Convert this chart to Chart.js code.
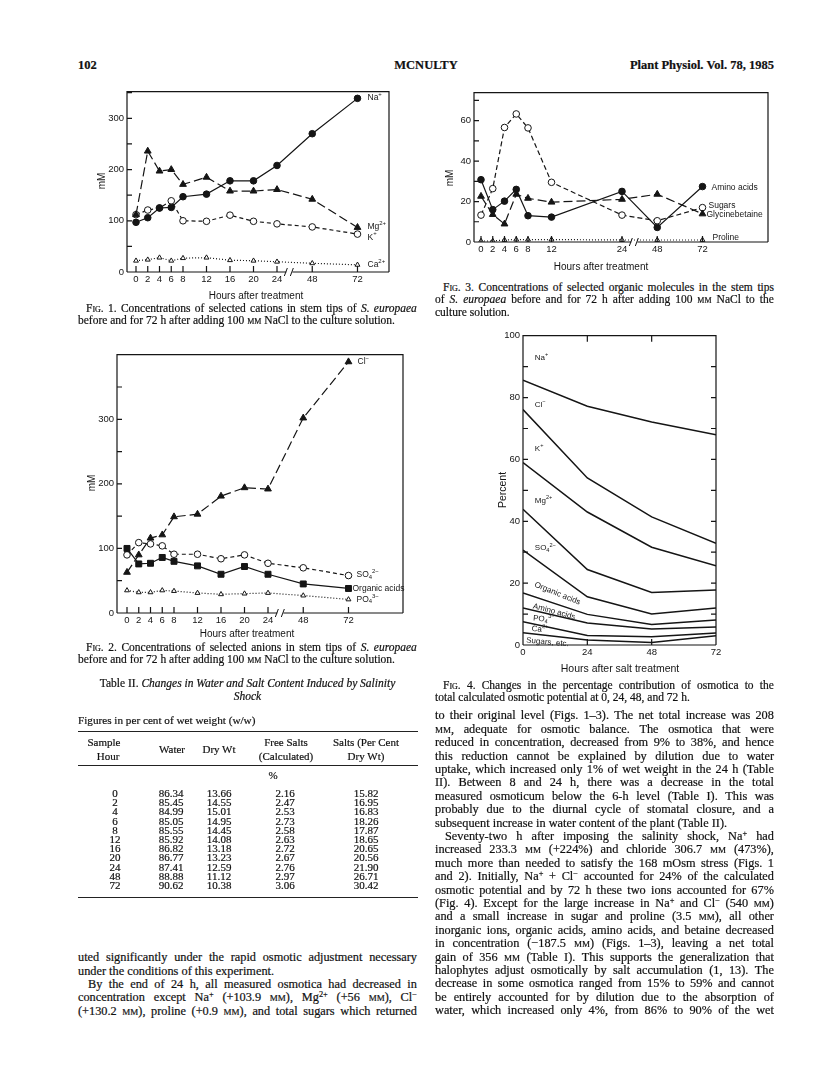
<!DOCTYPE html>
<html lang="en">
<head>
<meta charset="UTF-8">
<meta name="viewport" content="width=816, initial-scale=1.0">
<title>McNulty – Plant Physiol. Vol. 78, 1985, p. 102</title>
<script src="https://cdn.jsdelivr.net/npm/chart.js"></script>
<style>
    html, body { margin: 0; padding: 0; background: #fff; }
    body {
        position: relative;
        width: 816px;
        height: 1073px;
        overflow: hidden;
        font-family: "Liberation Serif", "Times New Roman", serif;
        color: #111;
        -webkit-text-stroke: 0.2px #111;
    }
    canvas { position: absolute; }
    .txt { position: absolute; white-space: nowrap; }
    .ln { position: absolute; white-space: nowrap; }
    .ln.just { display: flex; justify-content: space-between; }
    sup, sub { font-size: 0.68em; line-height: 0; }
    sup { vertical-align: 0.45em; }
    sub { vertical-align: -0.2em; }
    var { font-style: normal; font-variant: small-caps; }
    .head { font-size: 12.5px; font-weight: bold; line-height: 14px; }
    .rule { position: absolute; left: 78px; width: 340px; background: #222; }
    .cell { position: absolute; font-size: 11px; line-height: 12px; transform: translateX(-50%); white-space: nowrap; }
</style>
</head>
<body>
    <div class="txt head" style="left:78px; top:58px;">102</div>
    <div class="txt head" style="left:426px; top:58px; transform:translateX(-50%);">MCNULTY</div>
    <div class="txt head" style="right:42px; top:58px;">Plant Physiol. Vol. 78, 1985</div>

    <canvas id="fig1"></canvas>
    <canvas id="fig2"></canvas>
    <canvas id="fig3"></canvas>
    <canvas id="fig4"></canvas>

    <div class="rule" style="top:731px; height:1.2px;"></div>
    <div class="rule" style="top:765px; height:0.8px;"></div>
    <div class="rule" style="top:897px; height:1.2px;"></div>

<script>
    // ---- Fig. 1: cations in stem tips (mM) ----
    const hours1  = [0, 2, 4, 6, 8, 12, 16, 20, 24, 48, 72];
    const naPlus  = [97, 106, 125, 126, 147, 152, 178, 178, 208, 270, 339];
    const mg2Plus = [112, 236, 197, 200, 171, 185, 158, 158, 161, 142, 87];
    const kPlus   = [112, 121, 125, 139, 100, 99, 111, 99, 94, 88, 74];
    const ca2Plus = [22, 24, 28, 22, 27, 28, 23, 22, 20, 17, 14];
    const yTicks1 = [0, 100, 200, 300];

    // ---- Fig. 2: anions in stem tips (mM) ----
    const hours2   = [0, 2, 4, 6, 8, 12, 16, 20, 24, 48, 72];
    const clMinus  = [63, 90, 116, 121, 149, 153, 181, 194, 192, 302, 389];
    const so4      = [90, 109, 107, 104, 91, 91, 84, 90, 77, 70, 58];
    const orgAcids = [100, 76, 77, 86, 80, 73, 60, 72, 60, 45, 38];
    const po4      = [35, 32, 32, 35, 34, 31, 29, 30, 31, 27, 21];
    const yTicks2  = [0, 100, 200, 300];

    // ---- Fig. 3: organic molecules (mM) ----
    const hours3         = [0, 2, 4, 6, 8, 12, 24, 48, 72];
    const aminoAcids     = [30.8, 16, 20.2, 26, 13, 12.3, 25, 7.2, 27.4];
    const sugars         = [13.3, 26.4, 56.6, 63.3, 56.4, 29.5, 13.3, 10.5, 17];
    const glycinebetaine = [22.6, 13.6, 8.9, 23.6, 21.6, 19.7, 21.1, 23.6, 13.9];
    const proline        = [0.5, 0.5, 1, 1.2, 1.2, 1.2, 1, 1, 1];
    const yTicks3        = [0, 20, 40, 60];

    // ---- Fig. 4: cumulative percentage contribution (upper edge of each band) ----
    const hours4      = [0, 24, 48, 72];
    const topCl       = [85.6, 77.2, 72.1, 68.0];
    const topK        = [76.1, 54.0, 41.4, 32.9];
    const topMg       = [59.0, 43.0, 31.6, 25.6];
    const topSO4      = [43.9, 24.4, 17.0, 17.8];
    const topOrganic  = [30.7, 15.6, 10.0, 12.0];
    const topAmino    = [16.8, 9.9, 6.6, 8.1];
    const topPO4      = [12.0, 7.1, 5.2, 5.8];
    const topCa       = [7.5, 3.1, 2.7, 3.9];
    const topSugars   = [4.0, 1.6, 0.8, 3.0];
    const yTicks4     = [0, 20, 40, 60, 80, 100];
    const xTicks4     = [0, 24, 48, 72];

    // ---- Table II ----
    const tblHour  = ['0', '2', '4', '6', '8', '12', '16', '20', '24', '48', '72'];
    const tblWater = ['86.34', '85.45', '84.99', '85.05', '85.55', '85.92', '86.82', '86.77', '87.41', '88.88', '90.62'];
    const tblDry   = ['13.66', '14.55', '15.01', '14.95', '14.45', '14.08', '13.18', '13.23', '12.59', '11.12', '10.38'];
    const tblFree  = ['2.16', '2.47', '2.53', '2.73', '2.58', '2.63', '2.72', '2.67', '2.76', '2.97', '3.06'];
    const tblSalts = ['15.82', '16.95', '16.83', '18.26', '17.87', '18.65', '20.65', '20.56', '21.90', '26.71', '30.42'];

    const ink = '#151515';
    const sans = '"Liberation Sans", Arial, Helvetica, sans-serif';
    Chart.defaults.font.family = sans;
    Chart.defaults.color = ink;

    // hour axis: linear to 24 h, then compressed after the break
    const POS48 = 30.0, POS72 = 37.7, BREAK_POS = 26.1, PX_PER_POS = 5.875;
    function hourPos(h) {
        if (h <= 24) return h;
        if (h <= 48) return 24 + (h - 24) * (POS48 - 24) / 24;
        return POS48 + (h - 48) * (POS72 - POS48) / 24;
    }

    const FILLED_CIRCLE = { pointStyle: 'circle', pointRadius: 3.3, pointBackgroundColor: ink };
    const OPEN_CIRCLE   = { pointStyle: 'circle', pointRadius: 3.3, pointBackgroundColor: '#fff' };
    const FILLED_TRI    = { pointStyle: 'triangle', pointRadius: 3.9, pointBackgroundColor: ink };
    const OPEN_TRI      = { pointStyle: 'triangle', pointRadius: 2.8, pointBackgroundColor: '#fff' };
    const FILLED_SQ     = { pointStyle: 'rect', pointRadius: 4.2, pointBackgroundColor: ink };

    function series(hours, values, marker, dash, order) {
        return Object.assign({
            data: hours.map((h, i) => ({ x: hourPos(h), y: values[i] })),
            borderColor: ink, borderWidth: 1.2, borderDash: dash, tension: 0,
            pointBorderColor: ink, pointBorderWidth: 1, pointHoverRadius: 0, order: order
        }, marker);
    }

    function band(values) {
        return {
            data: hours4.map((h, i) => ({ x: h, y: values[i] })),
            borderColor: ink, borderWidth: 1.5, tension: 0, pointRadius: 0
        };
    }

    // text with ^{sup} and _{sub}
    function parseRich(s) {
        const out = [];
        let i = 0;
        while (i < s.length) {
            if ((s[i] === '^' || s[i] === '_') && s[i + 1] === '{') {
                const j = s.indexOf('}', i);
                out.push({ t: s.slice(i + 2, j), k: s[i] });
                i = j + 1;
            } else {
                let j = i;
                while (j < s.length && !((s[j] === '^' || s[j] === '_') && s[j + 1] === '{')) j++;
                out.push({ t: s.slice(i, j), k: '' });
                i = j;
            }
        }
        return out;
    }
    function drawRich(ctx, s, x, y, size, rot) {
        ctx.save();
        ctx.translate(x, y);
        if (rot) ctx.rotate(rot * Math.PI / 180);
        ctx.textBaseline = 'middle';
        ctx.textAlign = 'left';
        ctx.fillStyle = ink;
        let cx = 0;
        parseRich(s).forEach(p => {
            const fs = p.k ? size * 0.7 : size;
            ctx.font = fs + 'px ' + sans;
            const dy = p.k === '^' ? -size * 0.4 : (p.k === '_' ? size * 0.28 : 0);
            ctx.fillText(p.t, cx, dy);
            cx += ctx.measureText(p.t).width;
        });
        ctx.restore();
    }

    // box, inward ticks, axis break, series labels and axis titles
    const framePlugin = {
        id: 'frame',
        afterDatasetsDraw(chart, args, o) {
            const { ctx, chartArea: a } = chart;
            const x = chart.scales.x, y = chart.scales.y;
            ctx.save();
            ctx.strokeStyle = ink;
            ctx.lineWidth = 1.2;
            ctx.beginPath();
            ctx.moveTo(a.left, a.bottom); ctx.lineTo(a.left, a.top);
            ctx.lineTo(a.right, a.top); ctx.lineTo(a.right, a.bottom);
            if (o.breakAt != null) {
                const bx = x.getPixelForValue(o.breakAt);
                ctx.moveTo(a.left, a.bottom); ctx.lineTo(bx - 3, a.bottom);
                ctx.moveTo(bx + 3, a.bottom); ctx.lineTo(a.right, a.bottom);
            } else {
                ctx.moveTo(a.left, a.bottom); ctx.lineTo(a.right, a.bottom);
            }
            for (let v = o.yStep; v < y.max; v += o.yStep) {
                const py = y.getPixelForValue(v);
                ctx.moveTo(a.left, py); ctx.lineTo(a.left + 5, py);
                if (o.mirror) { ctx.moveTo(a.right, py); ctx.lineTo(a.right - 5, py); }
            }
            x.ticks.forEach(t => {
                const px = x.getPixelForValue(t.value);
                ctx.moveTo(px, a.bottom); ctx.lineTo(px, a.bottom - 6);
                if (o.mirror) { ctx.moveTo(px, a.top); ctx.lineTo(px, a.top + 6); }
            });
            ctx.stroke();
            if (o.breakAt != null) {
                const bx = x.getPixelForValue(o.breakAt);
                ctx.lineWidth = 1;
                ctx.beginPath();
                ctx.moveTo(bx - 5, a.bottom + 4); ctx.lineTo(bx - 2, a.bottom - 4);
                ctx.moveTo(bx + 1, a.bottom + 4); ctx.lineTo(bx + 4, a.bottom - 4);
                ctx.stroke();
            }
            ctx.restore();
        },
        afterDraw(chart, args, o) {
            const { ctx } = chart;
            const x = chart.scales.x, y = chart.scales.y;
            (o.labels || []).forEach(l => {
                drawRich(ctx, l.s, x.getPixelForValue(l.x) + (l.dx || 0), y.getPixelForValue(l.y),
                         l.size || o.labelSize, l.rot || 0);
            });
            ctx.save();
            ctx.fillStyle = ink;
            ctx.font = o.titleSize + 'px ' + sans;
            ctx.textAlign = 'center';
            ctx.textBaseline = 'middle';
            ctx.fillText(o.xTitle.text, o.xTitle.x - o.ox, o.xTitle.y - o.oy);
            ctx.translate(o.yTitle.x - o.ox, o.yTitle.y - o.oy);
            ctx.rotate(-Math.PI / 2);
            ctx.fillText(o.yTitle.text, 0, 0);
            ctx.restore();
        }
    };

    function makeChart(id, g, datasets, frame) {
        const yw = 40, xh = 36, pt = 8;
        const cv = document.getElementById(id);
        cv.width = yw + (g.r - g.l) + g.padRight;
        cv.height = pt + (g.b - g.t) + xh;
        cv.style.left = (g.l - yw) + 'px';
        cv.style.top = (g.t - pt) + 'px';
        frame.ox = g.l - yw;
        frame.oy = g.t - pt;
        return new Chart(cv, {
            type: 'line',
            data: { datasets: datasets },
            options: {
                responsive: false,
                animation: false,
                devicePixelRatio: 1,
                events: [],
                layout: { padding: { left: 0, top: pt, right: g.padRight, bottom: 0 } },
                plugins: { legend: { display: false }, tooltip: { enabled: false }, frame: frame },
                scales: {
                    x: {
                        type: 'linear', min: g.xMin, max: g.xMax,
                        grid: { display: false, drawTicks: false, tickLength: 0 },
                        border: { display: false },
                        afterFit: s => { s.height = xh; },
                        afterBuildTicks: s => { s.ticks = g.xTicks.map(v => ({ value: v })); },
                        ticks: {
                            autoSkip: false, maxRotation: 0, padding: 2,
                            font: { size: 9.5 }, color: ink,
                            callback: (v, i) => g.xLabels[i]
                        }
                    },
                    y: {
                        min: 0, max: g.yMax,
                        grid: { display: false, drawTicks: false, tickLength: 0 },
                        border: { display: false },
                        afterFit: s => { s.width = yw; },
                        afterBuildTicks: s => { s.ticks = g.yTicks.map(v => ({ value: v })); },
                        ticks: { padding: 3, font: { size: 9.5 }, color: ink, callback: v => String(v) }
                    }
                }
            },
            plugins: [framePlugin]
        });
    }

    function hourGeom(l, r, t, b, x0, yMax, hours, yTicks, padRight) {
        return {
            l: l, r: r, t: t, b: b, yMax: yMax, padRight: padRight,
            xMin: (l - x0) / PX_PER_POS, xMax: (r - x0) / PX_PER_POS,
            xTicks: hours.map(hourPos), xLabels: hours.map(String), yTicks: yTicks
        };
    }

    // Fig. 1
    makeChart('fig1', hourGeom(127, 389, 91, 272, 136, 352, hours1, yTicks1, 6), [
        series(hours1, naPlus, FILLED_CIRCLE, [], 1),
        series(hours1, mg2Plus, FILLED_TRI, [9, 4], 2),
        series(hours1, kPlus, OPEN_CIRCLE, [4, 3], 3),
        series(hours1, ca2Plus, OPEN_TRI, [1, 2], 4)
    ], {
        yStep: 50, breakAt: BREAK_POS, labelSize: 8.5, titleSize: 10,
        xTitle: { text: 'Hours after treatment', x: 256, y: 296 },
        yTitle: { text: 'mM', x: 102, y: 181 },
        labels: [
            { s: 'Na^{+}', x: hourPos(72), y: 341, dx: 10 },
            { s: 'Mg^{2+}', x: hourPos(72), y: 88, dx: 10 },
            { s: 'K^{+}', x: hourPos(72), y: 68, dx: 10 },
            { s: 'Ca^{2+}', x: hourPos(72), y: 15, dx: 10 }
        ]
    });

    // Fig. 2
    makeChart('fig2', hourGeom(117, 403, 354, 613, 127, 400, hours2, yTicks2, 6), [
        series(hours2, orgAcids, FILLED_SQ, [], 1),
        series(hours2, clMinus, FILLED_TRI, [9, 4], 2),
        series(hours2, so4, OPEN_CIRCLE, [4, 3], 3),
        series(hours2, po4, OPEN_TRI, [1, 2], 4)
    ], {
        yStep: 50, breakAt: BREAK_POS, labelSize: 8.5, titleSize: 10,
        xTitle: { text: 'Hours after treatment', x: 247, y: 634 },
        yTitle: { text: 'mM', x: 92, y: 483 },
        labels: [
            { s: 'Cl^{−}', x: hourPos(72), y: 389, dx: 9 },
            { s: 'SO_{4}^{2−}', x: hourPos(72), y: 59, dx: 8 },
            { s: 'Organic acids', x: hourPos(72), y: 38, dx: 4 },
            { s: 'PO_{4}^{3−}', x: hourPos(72), y: 21, dx: 8 }
        ]
    });

    // Fig. 3
    makeChart('fig3', hourGeom(474, 768, 92, 242, 481, 73.8, hours3, yTicks3, 8), [
        series(hours3, aminoAcids, FILLED_CIRCLE, [], 1),
        series(hours3, glycinebetaine, FILLED_TRI, [9, 4], 2),
        series(hours3, sugars, OPEN_CIRCLE, [5, 3], 3),
        series(hours3, proline, OPEN_TRI, [1, 2], 4)
    ], {
        yStep: 10, breakAt: BREAK_POS, labelSize: 8.5, titleSize: 10,
        xTitle: { text: 'Hours after treatment', x: 601, y: 267 },
        yTitle: { text: 'mM', x: 450, y: 178 },
        labels: [
            { s: 'Amino acids', x: hourPos(72), y: 27, dx: 9 },
            { s: 'Sugars', x: hourPos(72), y: 18.2, dx: 6 },
            { s: 'Glycinebetaine', x: hourPos(72), y: 13.3, dx: 4 },
            { s: 'Proline', x: hourPos(72), y: 2.2, dx: 10 }
        ]
    });

    // Fig. 4
    makeChart('fig4', {
        l: 523, r: 716, t: 335, b: 645, yMax: 100, padRight: 12,
        xMin: 0, xMax: 72, xTicks: xTicks4, xLabels: xTicks4.map(String), yTicks: yTicks4
    }, [topCl, topK, topMg, topSO4, topOrganic, topAmino, topPO4, topCa, topSugars].map(band), {
        yStep: 10, mirror: true, breakAt: null, labelSize: 8, titleSize: 10.5,
        xTitle: { text: 'Hours after salt treatment', x: 620, y: 669 },
        yTitle: { text: 'Percent', x: 503, y: 490 },
        labels: [
            { s: 'Na^{+}', x: 4.4, y: 93 },
            { s: 'Cl^{−}', x: 4.4, y: 77.6 },
            { s: 'K^{+}', x: 4.4, y: 63.4 },
            { s: 'Mg^{2+}', x: 4.4, y: 46.6 },
            { s: 'SO_{4}^{2−}', x: 4.4, y: 31.3 },
            { s: 'Organic acids', x: 4.4, y: 19.6, rot: 22 },
            { s: 'Amino acids', x: 3.8, y: 12.6, rot: 15 },
            { s: 'PO_{4}^{3−}', x: 3.8, y: 8.6, rot: 4 },
            { s: 'Ca^{2+}', x: 3.2, y: 5.2, rot: 4 },
            { s: 'Sugars, etc.', x: 1.2, y: 1.5, rot: 5 }
        ]
    });

    // ---- page text ----
    function addLines(lines, left, width, firstCenter, step, size) {
        lines.forEach((ln, i) => {
            const d = document.createElement('div');
            const ind = ln.ind || 0;
            d.className = 'ln';
            d.style.left = (left + ind) + 'px';
            d.style.width = (width - ind) + 'px';
            d.style.top = (firstCenter + i * step - step / 2) + 'px';
            d.style.height = step + 'px';
            d.style.lineHeight = step + 'px';
            d.style.fontSize = size + 'px';
            if (ln.end) {
                d.innerHTML = ln.t;
            } else {
                d.classList.add('just');
                d.innerHTML = ln.t.split(' ').map(w => '<span>' + w + '</span>').join('');
            }
            document.body.appendChild(d);
        });
    }
    function addText(html, x, cy, size, extra) {
        const d = document.createElement('div');
        d.className = 'txt';
        d.style.left = x + 'px';
        d.style.top = (cy - size * 0.6) + 'px';
        d.style.fontSize = size + 'px';
        d.style.lineHeight = (size * 1.2) + 'px';
        if (extra) d.style.cssText += extra;
        d.innerHTML = html;
        document.body.appendChild(d);
    }
    function cell(text, cx, cy, size) {
        const d = document.createElement('div');
        d.className = 'cell';
        d.style.left = cx + 'px';
        d.style.top = (cy - 6) + 'px';
        if (size) d.style.fontSize = size + 'px';
        d.innerHTML = text;
        document.body.appendChild(d);
    }

    const LEFT = 78, RIGHT = 435, COLW = 339;

    addLines([
        { t: 'F<var>ig</var>. 1. Concentrations of selected cations in stem tips of <em>S.</em> <em>europaea</em>', ind: 8 },
        { t: 'before and for 72 h after adding 100 <var>mm</var> NaCl to the culture solution.', end: true }
    ], LEFT, COLW, 308, 12.3, 11.5);

    addLines([
        { t: 'F<var>ig</var>. 2. Concentrations of selected anions in stem tips of <em>S.</em> <em>europaea</em>', ind: 8 },
        { t: 'before and for 72 h after adding 100 <var>mm</var> NaCl to the culture solution.', end: true }
    ], LEFT, COLW, 647, 12.3, 11.5);

    addText('Table II. <em>Changes in Water and Salt Content Induced by Salinity</em>', LEFT + COLW / 2, 684, 11.5, 'transform:translateX(-50%);');
    addText('<em>Shock</em>', LEFT + COLW / 2, 697, 11.5, 'transform:translateX(-50%);');
    addText('Figures in per cent of wet weight (w/w)', LEFT, 721, 11.2);

    // table header
    cell('Sample', 104, 742); cell('Hour', 108, 756);
    cell('Water', 172, 749);
    cell('Dry Wt', 219, 749);
    cell('Free Salts', 286, 742); cell('(Calculated)', 286, 756);
    cell('Salts (Per Cent', 366, 742); cell('Dry Wt)', 366, 756);
    cell('%', 273, 775);
    tblHour.forEach((h, i) => {
        const cy = 793 + i * 9.2;
        cell(h, 115, cy);
        cell(tblWater[i], 171, cy);
        cell(tblDry[i], 219, cy);
        cell(tblFree[i], 285, cy);
        cell(tblSalts[i], 366, cy);
    });

    addLines([
        { t: 'uted significantly under the rapid osmotic adjustment necessary' },
        { t: 'under the conditions of this experiment.', end: true },
        { t: 'By the end of 24 h, all measured osmotica had decreased in', ind: 10 },
        { t: 'concentration except Na<sup>+</sup> (+103.9 <var>mm</var>), Mg<sup>2+</sup> (+56 <var>mm</var>), Cl<sup>−</sup>' },
        { t: '(+130.2 <var>mm</var>), proline (+0.9 <var>mm</var>), and total sugars which returned' }
    ], LEFT, COLW, 958, 13.3, 12.3);

    addLines([
        { t: 'F<var>ig</var>. 3. Concentrations of selected organic molecules in the stem tips', ind: 8 },
        { t: 'of <em>S.</em> <em>europaea</em> before and for 72 h after adding 100 <var>mm</var> NaCl to the' },
        { t: 'culture solution.', end: true }
    ], RIGHT, COLW, 287, 12.5, 11.5);

    addLines([
        { t: 'F<var>ig</var>. 4. Changes in the percentage contribution of osmotica to the', ind: 8 },
        { t: 'total calculated osmotic potential at 0, 24, 48, and 72 h.', end: true }
    ], RIGHT, COLW, 685, 12.6, 11.5);

    addLines([
        { t: 'to their original level (Figs. 1–3). The net total increase was 208' },
        { t: '<var>mm</var>, adequate for osmotic balance. The osmotica that were' },
        { t: 'reduced in concentration, decreased from 9% to 38%, and hence' },
        { t: 'this reduction cannot be explained by dilution due to water' },
        { t: 'uptake, which increased only 1% of wet weight in the 24 h (Table' },
        { t: 'II). Between 8 and 24 h, there was a decrease in the total' },
        { t: 'measured osmoticum below the 6-h level (Table I). This was' },
        { t: 'probably due to the diurnal cycle of stomatal closure, and a' },
        { t: 'subsequent increase in water content of the plant (Table II).', end: true },
        { t: 'Seventy-two h after imposing the salinity shock, Na<sup>+</sup> had', ind: 10 },
        { t: 'increased 233.3 <var>mm</var> (+224%) and chloride 306.7 <var>mm</var> (473%),' },
        { t: 'much more than needed to satisfy the 168 mOsm stress (Figs. 1' },
        { t: 'and 2). Initially, Na<sup>+</sup> + Cl<sup>−</sup> accounted for 24% of the calculated' },
        { t: 'osmotic potential and by 72 h these two ions accounted for 67%' },
        { t: '(Fig. 4). Except for the large increase in Na<sup>+</sup> and Cl<sup>−</sup> (540 <var>mm</var>)' },
        { t: 'and a small increase in sugar and proline (3.5 <var>mm</var>), all other' },
        { t: 'inorganic ions, organic acids, amino acids, and betaine decreased' },
        { t: 'in concentration (−187.5 <var>mm</var>) (Figs. 1–3), leaving a net total' },
        { t: 'gain of 356 <var>mm</var> (Table I). This supports the generalization that' },
        { t: 'halophytes adjust osmotically by salt accumulation (1, 13). The' },
        { t: 'decrease in some osmotica ranged from 15% to 59% and cannot' },
        { t: 'be entirely accounted for by dilution due to the absorption of' },
        { t: 'water, which increased only 4%, from 86% to 90% of the wet' }
    ], RIGHT, COLW, 716, 13.4, 12.3);
</script>
</body>
</html>
